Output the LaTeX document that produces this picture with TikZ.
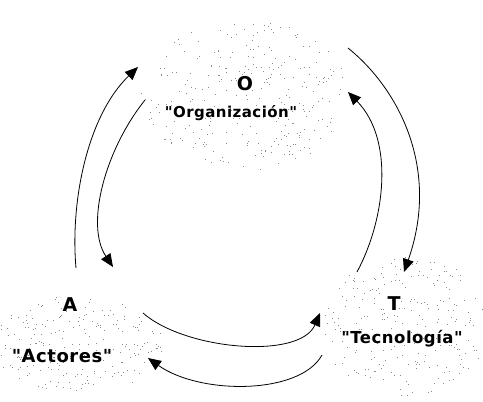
\documentclass[tikz,border=0pt]{standalone}
\usepackage{fontspec}
\usetikzlibrary{arrows.meta}
\newfontfamily\lblfont[LetterSpace=3]{DejaVu Sans}
\begin{document}
\begin{tikzpicture}[x=1pt,y=-1pt,
  lbl/.style={font=\lblfont\bfseries\fontsize{#1}{18}\selectfont, inner sep=0pt, text=black},
  lbl/.default=15,
  letter/.style={font=\lblfont\bfseries\fontsize{19}{20}\selectfont, inner sep=0pt, text=black},
  conn/.style={line width=0.8pt, -{Triangle[length=13pt,width=11pt]}},
  speck/.style={fill=black!45}]
\useasboundingbox (0,0) rectangle (483,402);
\fill[white] (0,0) rectangle (483,402);
% speckled clouds
\pgfmathsetseed{7}
\foreach \i in {1,...,300}{
  \pgfmathsetmacro\rr{sqrt(rnd)}\pgfmathsetmacro\tt{360*rnd}
  \fill[speck] ({245+105*\rr*cos(\tt)},{95+75*\rr*sin(\tt)}) rectangle ++(1,1);
}
\foreach \i in {1,...,220}{
  \pgfmathsetmacro\rr{sqrt(rnd)}\pgfmathsetmacro\tt{360*rnd}
  \fill[speck] ({78+85*\rr*cos(\tt)},{345+50*\rr*sin(\tt)}) rectangle ++(1,1);
}
\foreach \i in {1,...,240}{
  \pgfmathsetmacro\rr{sqrt(rnd)}\pgfmathsetmacro\tt{360*rnd}
  \fill[speck] ({405+85*\rr*cos(\tt)},{325+70*\rr*sin(\tt)}) rectangle ++(1,1);
}
% labels
\node[letter] (O) at (245,84) {O};
\node[lbl=15] (Org) at (231,113) {"Organización"};
\node[letter] (A) at (70,305) {A};
\node[lbl=18] (Act) at (62,356) {"Actores"};
\node[letter] (T) at (394,304) {T};
\node[lbl=16.5] (Tec) at (402,339) {"Tecnología"};
% arrow ends
\coordinate (a1s) at (76,268);  \coordinate (a1e) at (138,67);
\coordinate (a2s) at (145,100); \coordinate (a2e) at (113,267);
\coordinate (a3s) at (348,48);  \coordinate (a3e) at (404,272);
\coordinate (a4s) at (357,272); \coordinate (a4e) at (348,92);
\coordinate (a5s) at (143,313); \coordinate (a5e) at (320,313);
\coordinate (a6s) at (322,355); \coordinate (a6e) at (148,358);
\draw[conn] (a1s) .. controls (70,200) and (88,115) .. (a1e);
\draw[conn] (a2s) .. controls (105,150) and (85,225) .. (a2e);
\draw[conn] (a3s) .. controls (400,90) and (440,170) .. (a3e);
\draw[conn] (a4s) .. controls (385,220) and (395,140) .. (a4e);
\draw[conn] (a5s) .. controls (185,350) and (300,360) .. (a5e);
\draw[conn] (a6s) .. controls (300,395) and (200,395) .. (a6e);
\end{tikzpicture}
\end{document}
